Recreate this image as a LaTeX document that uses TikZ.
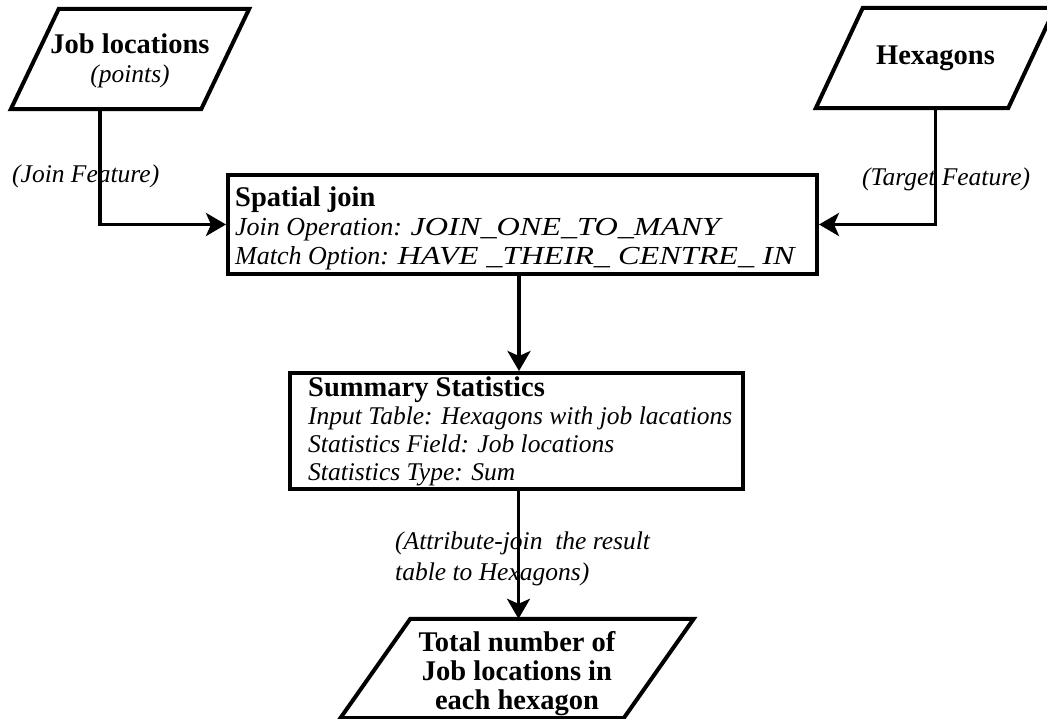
\documentclass[tikz,border=0pt]{standalone}
\usepackage{fontspec}
\setmainfont{Liberation Serif}
% wider capitals for the tool parameters
\newfontfamily\widecaps[FakeStretch=1.24]{Liberation Serif}
\usetikzlibrary{arrows.meta}

\newcommand\titlefont{\bfseries\fontsize{28.5}{29}\selectfont}
\newcommand\itfont{\itshape\fontsize{25.5}{29}\selectfont}
\newcommand\itfontb{\itshape\fontsize{26}{29}\selectfont}

% slanted outline around a rectangular node
\newcommand\slabframe[2]{%
  \draw[frame] ([xshift=-#2]#1.south west) -- ([xshift=-#2]#1.south east)
    -- ([xshift=#2]#1.north east) -- ([xshift=#2]#1.north west) -- cycle;}

\tikzset{
  frame/.style={draw=black, line width=4pt, line join=miter},
  procbox/.style={frame, shape=rectangle, inner sep=0pt},
  slabtext/.style={shape=rectangle, inner sep=0pt, align=center, minimum height=100pt},
  boxtext/.style={anchor=north west, inner sep=0pt, align=left},
  flow/.style={line width=3.5pt, -{Stealth[length=20pt,width=23pt,inset=5pt]}},
}

\begin{document}
\begin{tikzpicture}[x=1pt,y=-1pt]
\useasboundingbox (0,0) rectangle (1047,719);

% inputs
\node[slabtext, minimum width=190pt, font=\fontsize{25.5}{29}\selectfont] (jobloc) at (130,59)
  {{\titlefont\rule{0pt}{25pt}Job locations}\\ {\itfont (points)\rule[-6pt]{0pt}{6pt}}};
\slabframe{jobloc}{24pt}

\node[slabtext, minimum width=192pt, font=\fontsize{28.5}{29}\selectfont] (hex) at (935.5,58)
  {{\titlefont\rule{0pt}{21pt}Hexagons\rule[-7pt]{0pt}{7pt}}};
\slabframe{hex}{23.5pt}

% spatial join
\node[procbox, minimum width=589pt, minimum height=99pt] (sj) at (522.5,224.5) {};
\node[boxtext, font=\fontsize{26}{29}\selectfont] (sjtext) at (235,186)
  {{\titlefont\rule{0pt}{20pt}Spatial join}\\
   {\itfontb Join Operation: {\widecaps JOIN\_ONE\_TO\_MANY}}\\
   {\itfontb Match Option: {\widecaps HAVE \_THEIR\_ CENTRE\_ IN}}};

% summary statistics
\node[procbox, minimum width=453pt, minimum height=116pt] (sum) at (516.5,431) {};
\node[boxtext, font=\fontsize{25.5}{28}\selectfont] (sumtext) at (308,376)
  {{\titlefont\rule{0pt}{20pt}Summary Statistics}\\
   {\itfont Input Table: Hexagons with job lacations}\\
   {\itfont Statistics Field: Job locations}\\
   {\itfont Statistics Type: Sum}};

% output
\node[slabtext, minimum width=283pt, minimum height=99pt, font=\titlefont] (total) at (517,668.5)
  {\rule{0pt}{30pt}Total number of\\ Job locations in\\ each hexagon\rule[-7pt]{0pt}{7pt}};
\slabframe{total}{35pt}

% connectors
\draw[flow] ([xshift=-30pt]jobloc.south) |- (sj.west);
\draw[flow] (hex.south) |- (sj.east);
\draw[flow] ([xshift=2.5pt]sum.north |- sj.south) -- ([xshift=2.5pt]sum.north);
\draw[flow] ([xshift=2pt]sum.south) -- ([xshift=2pt]sum.south |- total.north);

% connector labels
\node[boxtext, font=\itfont] (joinlab) at (12,162) {\rule{0pt}{20pt}(Join Feature)};
\node[boxtext, font=\itfont] (targetlab) at (862,165) {\rule{0pt}{20pt}(Target Feature)};
\node[boxtext, font=\fontsize{25.5}{31}\selectfont] (attrlab) at (395,529)
  {{\itfont\rule{0pt}{20pt}(Attribute-join\ \ the result}\\ {\itfont table to Hexagons)}};
\end{tikzpicture}
\end{document}
